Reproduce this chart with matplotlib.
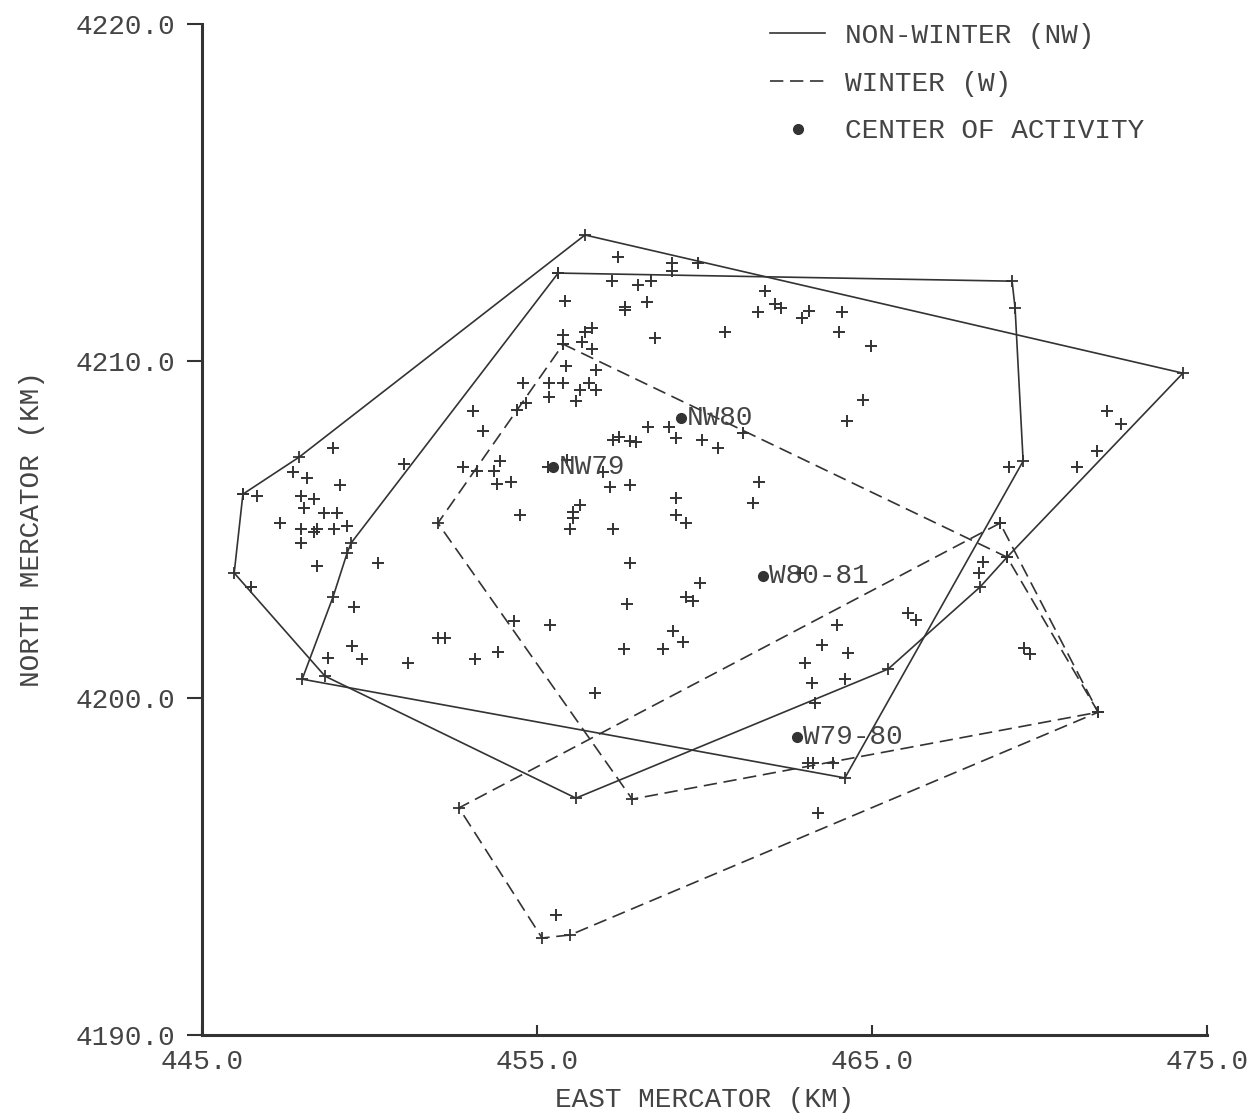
import matplotlib
matplotlib.use("Agg")
import matplotlib.pyplot as plt
from matplotlib.lines import Line2D
from matplotlib.ticker import FormatStrFormatter

# home range polygons, east / north mercator (km), first vertex repeated to close
nw_a_x = [446.22, 447.90, 456.43, 474.28, 469.03, 468.22, 465.48, 456.16, 448.67, 445.96, 446.22]
nw_a_y = [4206.05, 4207.15, 4213.74, 4209.64, 4204.18, 4203.29, 4200.86, 4197.03, 4200.65, 4203.71, 4206.05]

nw_b_x = [455.63, 469.18, 469.27, 469.51, 464.19, 447.99, 448.91, 449.33, 449.45, 455.63]
nw_b_y = [4212.61, 4212.37, 4211.57, 4207.03, 4197.63, 4200.56, 4203.00, 4204.30, 4204.60, 4212.61]

w_a_x = [455.78, 469.03, 471.75, 457.84, 452.04, 455.78]
w_a_y = [4210.50, 4204.18, 4199.58, 4197.00, 4205.19, 4210.50]

w_b_x = [468.82, 452.67, 455.15, 455.99, 471.75, 468.82]
w_b_y = [4205.19, 4196.74, 4192.88, 4192.97, 4199.58, 4205.19]

# individual locations
east = [457.42, 459.03, 459.03, 459.81, 457.24, 458.01, 458.40, 455.84, 458.28, 457.63,
        457.63, 461.81, 462.10, 462.28, 461.60, 462.91, 463.12, 464.10, 460.61, 464.01,
        464.97, 458.52, 455.78, 456.43, 456.64, 456.34, 456.64, 455.87, 456.76, 454.58,
        455.36, 455.78, 456.55, 455.36, 456.28, 456.76, 456.16, 454.67, 454.40, 453.09,
        453.39, 464.73, 464.25, 458.31, 458.94, 459.15, 459.93, 460.40, 461.15, 457.27,
        457.45, 457.78, 457.96, 456.97, 457.18, 457.78, 461.63, 459.15, 461.45, 459.15,
        459.45, 456.07, 456.28, 456.07, 455.99, 457.27, 454.49, 453.90, 452.79, 453.21,
        453.72, 453.81, 454.22, 455.33, 455.90,
        448.91, 447.72, 448.13, 449.12, 446.64, 447.96, 448.34, 448.04, 448.64, 449.03,
        447.33, 447.96, 448.34, 448.43, 448.94, 449.33, 447.96, 448.43, 446.46, 449.54,
        450.25, 451.03, 454.31, 455.39, 452.04, 452.25, 449.48, 448.76, 449.78, 451.15,
        453.15, 453.84,
        457.78, 459.87, 459.45, 459.66, 457.69, 459.06, 459.36, 457.60, 458.76, 456.73,
        462.85, 463.96, 463.51, 464.28, 463.00, 463.21, 464.19, 463.30, 466.07, 466.31,
        463.09, 463.24, 463.84,
        472.01, 472.43, 471.72, 471.12, 469.09, 468.31, 468.19, 469.54, 469.72,
        463.39, 455.57]
north = [4213.09, 4212.91, 4212.67, 4212.91, 4212.37, 4212.26, 4212.37, 4211.78, 4211.75, 4211.51,
         4211.60, 4212.08, 4211.69, 4211.57, 4211.45, 4211.28, 4211.48, 4211.45, 4210.86, 4210.86,
         4210.45, 4210.68, 4210.77, 4210.86, 4210.98, 4210.56, 4210.36, 4209.85, 4209.73, 4209.35,
         4209.35, 4209.35, 4209.35, 4208.93, 4209.14, 4209.14, 4208.81, 4208.75, 4208.55, 4208.52,
         4207.92, 4208.84, 4208.22, 4208.04, 4208.04, 4207.72, 4207.66, 4207.42, 4207.86, 4207.66,
         4207.74, 4207.63, 4207.60, 4206.71, 4206.26, 4206.32, 4206.41, 4205.93, 4205.79, 4205.43,
         4205.19, 4205.52, 4205.73, 4205.34, 4205.01, 4205.01, 4205.43, 4207.03, 4206.85, 4206.74,
         4206.74, 4206.35, 4206.41, 4206.85, 4207.06,
         4207.42, 4206.71, 4206.53, 4206.32, 4205.99, 4205.99, 4205.91, 4205.64, 4205.49, 4205.49,
         4205.19, 4205.01, 4204.93, 4205.01, 4205.01, 4205.10, 4204.60, 4203.92, 4203.29, 4202.70,
         4204.01, 4206.94, 4202.28, 4202.17, 4201.78, 4201.78, 4201.54, 4201.19, 4201.16, 4201.04,
         4201.16, 4201.36,
         4204.01, 4203.41, 4203.00, 4202.88, 4202.79, 4201.99, 4201.66, 4201.45, 4201.45, 4200.15,
         4203.71, 4202.17, 4201.57, 4201.34, 4201.04, 4200.45, 4200.56, 4199.85, 4202.52, 4202.31,
         4198.07, 4198.07, 4198.07,
         4208.52, 4208.13, 4207.33, 4206.85, 4206.85, 4204.04, 4203.71, 4201.48, 4201.31,
         4196.59, 4193.56]

# centers of activity
center_x = [459.30, 455.48, 461.75, 462.76]
center_y = [4208.31, 4206.85, 4203.62, 4198.84]
center_lab = ["NW80", "NW79", "W80-81", "W79-80"]

ink = "#333333"
txt = "#444444"
plt.rcParams["font.family"] = ["Liberation Mono", "DejaVu Sans Mono"]
fs = 20
dash = (0, (8, 4))

fig = plt.figure(figsize=(12.58, 11.18), dpi=100)
ax = fig.add_axes([0.1606, 0.0742, 0.7989, 0.9043])

for px, py in [(nw_a_x, nw_a_y), (nw_b_x, nw_b_y)]:
    ax.plot(px, py, color=ink, lw=1.2, marker="+", ms=8, mew=1.3)
for px, py in [(w_a_x, w_a_y), (w_b_x, w_b_y)]:
    ax.plot(px, py, color=ink, lw=1.2, ls=dash, marker="+", ms=8, mew=1.3)

ax.plot(east, north, "+", color=ink, ms=8, mew=1.4)

ax.plot(center_x, center_y, "o", color=ink, ms=7)
for cx, cy, lab in zip(center_x, center_y, center_lab):
    ax.annotate(lab, (cx, cy), xytext=(4, 0), textcoords="offset points",
                ha="left", va="center", fontsize=fs, color=txt)

ax.set_xlim(445, 475)
ax.set_ylim(4190, 4220)
ax.set_xticks([445, 455, 465, 475])
ax.set_yticks([4190, 4200, 4210, 4220])
ax.xaxis.set_major_formatter(FormatStrFormatter("%.1f"))
ax.yaxis.set_major_formatter(FormatStrFormatter("%.1f"))
ax.tick_params(axis="x", direction="in", length=7, width=1.5, pad=10, labelsize=fs, colors=ink, labelcolor=txt)
ax.tick_params(axis="y", direction="out", length=11, width=1.5, pad=8, labelsize=fs, colors=ink, labelcolor=txt)
for s in ["top", "right"]:
    ax.spines[s].set_visible(False)
for s in ["left", "bottom"]:
    ax.spines[s].set_linewidth(2.2)
    ax.spines[s].set_color(ink)

ax.set_xlabel("EAST MERCATOR (KM)", fontsize=fs, color=txt, labelpad=9)
ax.set_ylabel("NORTH MERCATOR (KM)", fontsize=fs, color=txt, labelpad=22)

handles = [Line2D([], [], color=ink, lw=1.2),
           Line2D([], [], color=ink, lw=1.2, ls=dash),
           Line2D([], [], color=ink, ls="none", marker="o", ms=7)]
labels = ["NON-WINTER (NW)", "WINTER (W)", "CENTER OF ACTIVITY"]
ax.legend(handles, labels, loc="upper left", bbox_to_anchor=(0.565, 1.001),
          frameon=False, fontsize=fs, labelcolor=txt, handlelength=2.0,
          handletextpad=0.7, labelspacing=0.78, borderpad=0, borderaxespad=0)

fig.savefig("out.png", dpi=100, facecolor="white")
